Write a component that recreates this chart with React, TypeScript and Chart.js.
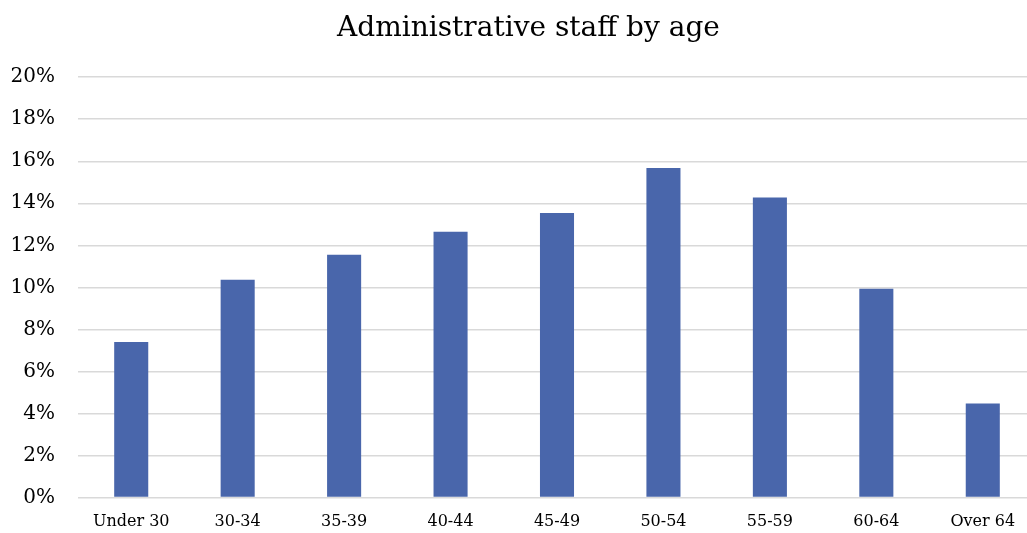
import React, { useEffect, useRef } from "react";
import { Chart, registerables } from "chart.js";

Chart.register(...registerables);

const chartTitle = "Administrative staff by age";
const ageGroups = ["Under 30", "30-34", "35-39", "40-44", "45-49", "50-54", "55-59", "60-64", "Over 64"];
const staffShare = [7.4, 10.36, 11.55, 12.64, 13.54, 15.68, 14.27, 9.93, 4.47];
const yTicks = [0, 2, 4, 6, 8, 10, 12, 14, 16, 18, 20];

const CANVAS_W = 1066;
const CANVAS_H = 533;
const FONT = "'DejaVu Serif', serif";

// Title drawn centred over the full chart frame (y labels + plot).
const titlePlugin = {
  id: "frameTitle",
  afterDraw(chart: any) {
    const ctx = chart.ctx;
    ctx.save();
    ctx.font = `normal 28px ${FONT}`;
    ctx.fillStyle = "#000000";
    ctx.textAlign = "center";
    ctx.textBaseline = "middle";
    ctx.fillText(chartTitle, (21 + chart.chartArea.right) / 2, 28.8);
    ctx.restore();
  },
};

export default function App() {
  const canvasRef = useRef<HTMLCanvasElement | null>(null);

  useEffect(() => {
    if (!canvasRef.current) return;
    const chart = new Chart(canvasRef.current, {
      type: "bar",
      data: {
        labels: ageGroups,
        datasets: [
          {
            label: "Share of staff",
            data: staffShare,
            backgroundColor: "#4966ab",
            borderWidth: 0,
            barPercentage: 0.32,
            categoryPercentage: 1,
          },
        ],
      },
      plugins: [titlePlugin],
      options: {
        responsive: false,
        animation: false,
        layout: { padding: { left: 10, right: 30, top: 77.2, bottom: 0 } },
        plugins: {
          legend: { display: false },
          tooltip: { enabled: false },
          title: { display: false },
        },
        scales: {
          x: {
            grid: { display: false, drawTicks: false },
            border: { display: false },
            ticks: {
              color: "#000000",
              font: { family: FONT, size: 16 },
              padding: 15,
              maxRotation: 0,
              autoSkip: false,
            },
            afterFit: (scale: any) => {
              scale.height = 35.5;
            },
          },
          y: {
            min: 0,
            max: 20,
            afterBuildTicks: (scale: any) => {
              scale.ticks = yTicks.map((v) => ({ value: v }));
            },
            grid: { color: "#d9d9d9", lineWidth: 1.5, drawTicks: false },
            border: { display: false },
            ticks: {
              color: "#000000",
              font: { family: FONT, size: 20 },
              padding: 23,
              callback: (v: any) => `${v}%`,
            },
            afterFit: (scale: any) => {
              scale.width = 68;
            },
          },
        },
      },
    });
    return () => chart.destroy();
  }, []);

  return (
    <div
      style={{
        position: "fixed",
        left: 0,
        top: 0,
        width: 1027,
        height: CANVAS_H,
        overflow: "hidden",
        background: "#ffffff",
      }}
    >
      <canvas ref={canvasRef} width={CANVAS_W} height={CANVAS_H} />
    </div>
  );
}
